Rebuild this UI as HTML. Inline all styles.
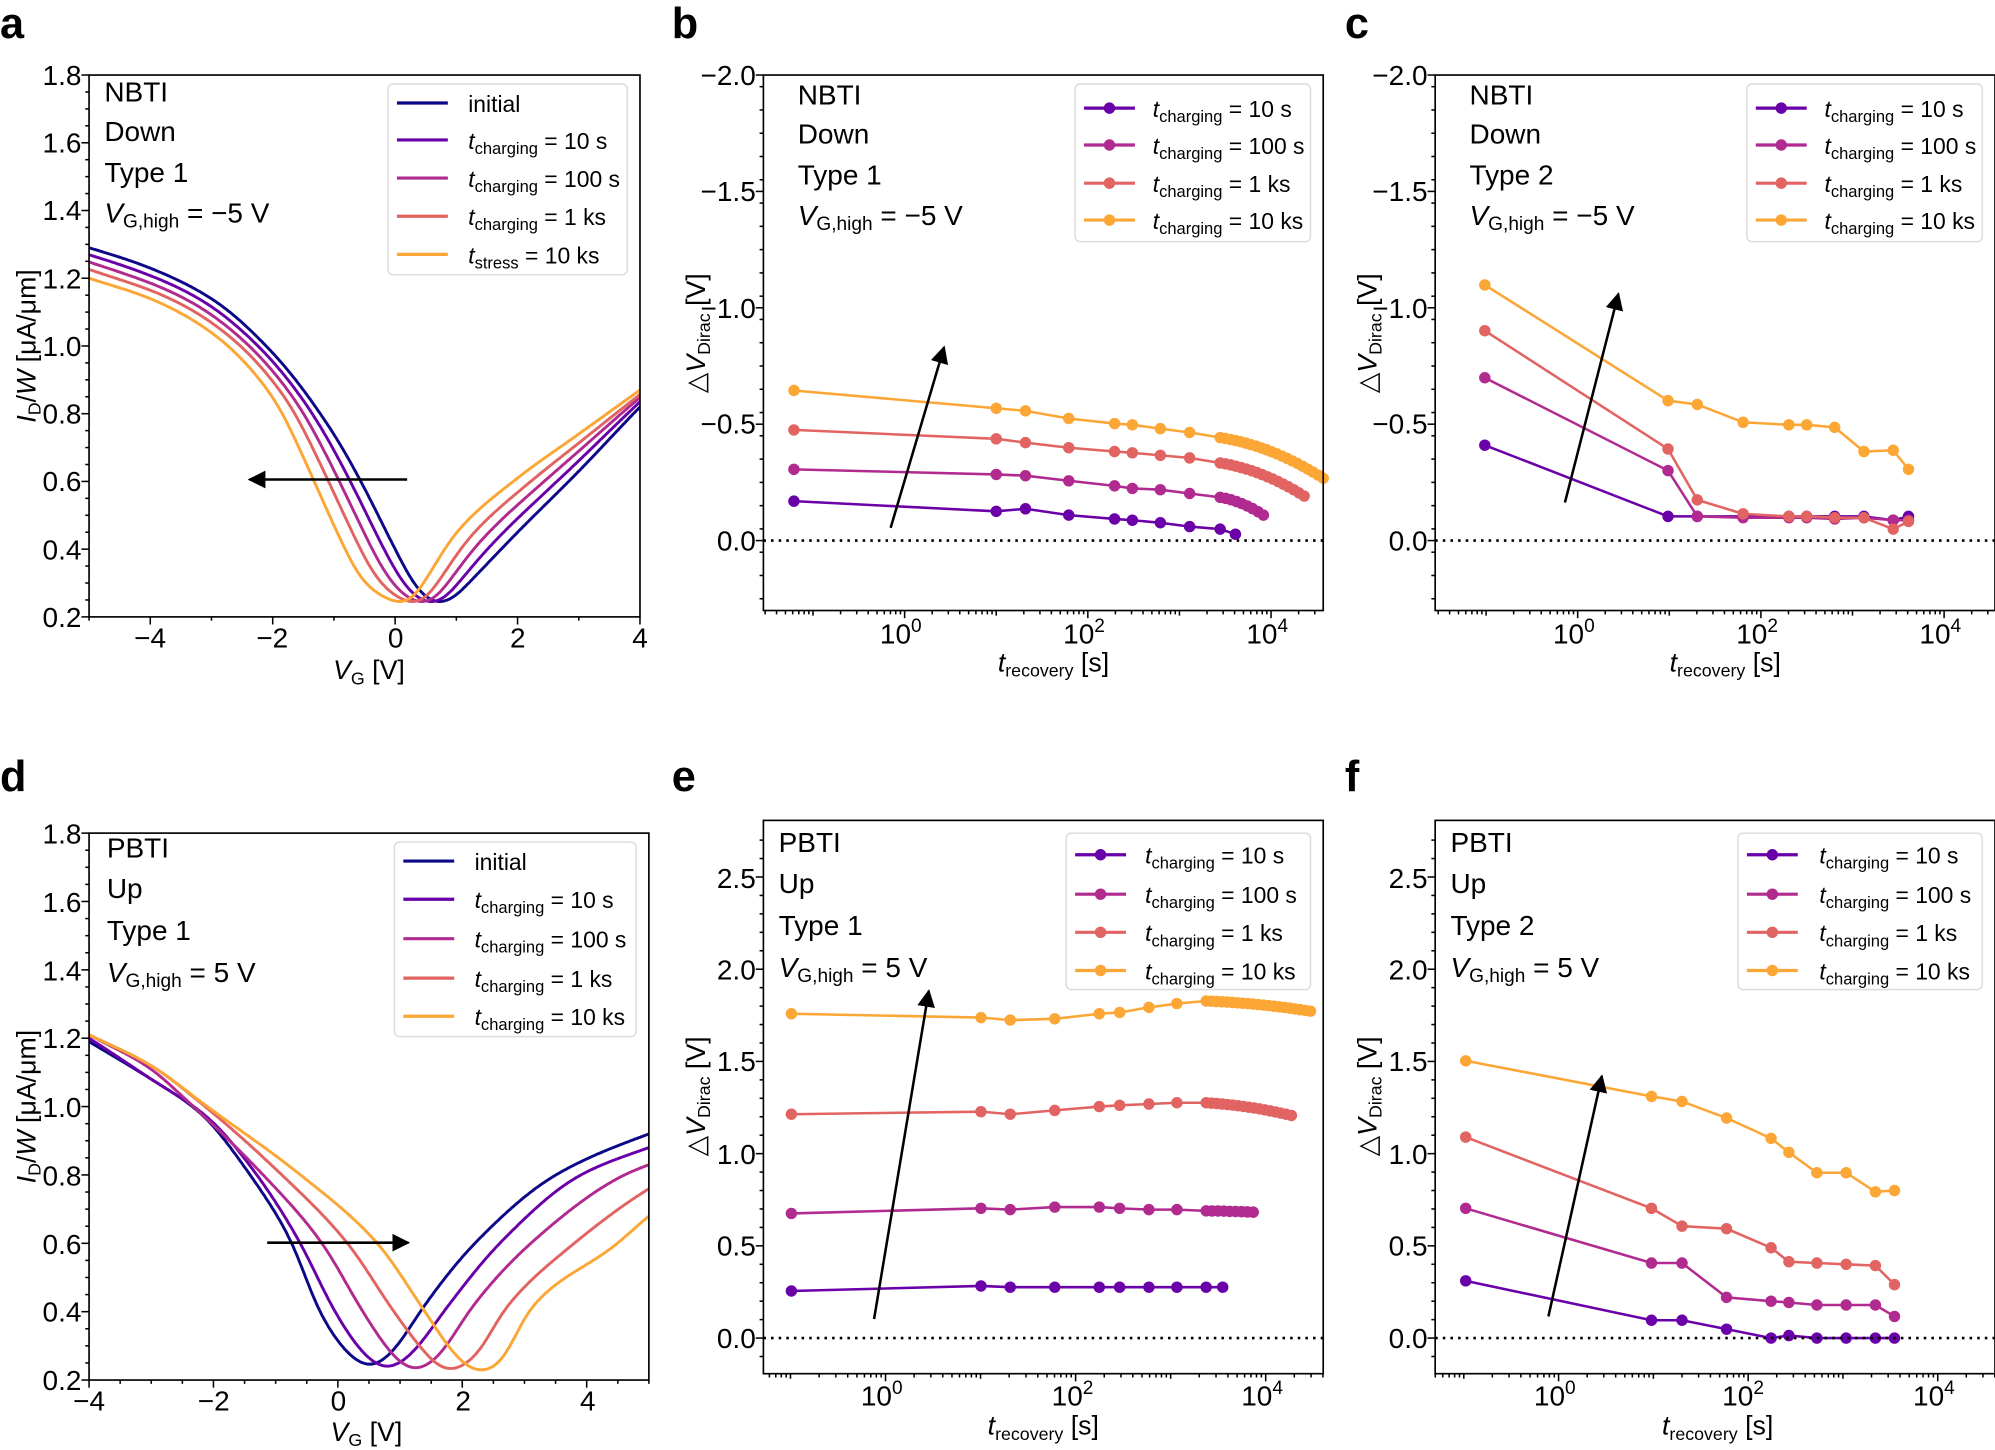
<!DOCTYPE html>
<html><head><meta charset="utf-8"><style>
html,body{margin:0;padding:0;background:#fff}
svg{display:block}
text{font-family:"Liberation Sans","DejaVu Sans",sans-serif;fill:#000}
.t{font-size:21px}
.tk{font-size:22px}
.lg{font-size:18px}
.lt{font-size:22px}
.L{font-size:34px;font-weight:bold}
</style></head><body>
<svg id="s" width="1995" height="1450" viewBox="0 0 1568 1140" preserveAspectRatio="none" xmlns="http://www.w3.org/2000/svg">
<defs><marker id="ar" viewBox="0 0 10 10" refX="9" refY="5" markerWidth="7" markerHeight="7" orient="auto"><path d="M0,0L10,5L0,10z" fill="#000"/></marker></defs>
<g id="dyn"></g>
<text class="L" x="0" y="30">a</text><text class="L" x="528" y="30">b</text><text class="L" x="1057" y="30">c</text>
<text class="L" x="0" y="622">d</text><text class="L" x="528" y="622">e</text><text class="L" x="1057" y="622">f</text>

<g class="tk" text-anchor="end">
<text x="64" y="67">1.8</text><text x="64" y="120">1.6</text><text x="64" y="173">1.4</text><text x="64" y="227">1.2</text><text x="64" y="280">1.0</text><text x="64" y="333">0.8</text><text x="64" y="386">0.6</text><text x="64" y="440">0.4</text><text x="64" y="493">0.2</text>
<text x="64" y="663">1.8</text><text x="64" y="717">1.6</text><text x="64" y="771">1.4</text><text x="64" y="824">1.2</text><text x="64" y="878">1.0</text><text x="64" y="932">0.8</text><text x="64" y="986">0.6</text><text x="64" y="1039">0.4</text><text x="64" y="1093">0.2</text>
</g>
<g class="tk" text-anchor="middle">
<text x="118" y="509">−4</text><text x="214" y="509">−2</text><text x="311" y="509">0</text><text x="407" y="509">2</text><text x="503" y="509">4</text>
<text x="70" y="1109">−4</text><text x="168" y="1109">−2</text><text x="266" y="1109">0</text><text x="364" y="1109">2</text><text x="462" y="1109">4</text>
</g>
<text class="t" text-anchor="middle" x="290" y="534"><tspan font-style="italic">V</tspan><tspan font-size="14" dy="4">G</tspan><tspan dy="-4"> [V]</tspan></text>
<text class="t" text-anchor="middle" x="288" y="1133"><tspan font-style="italic">V</tspan><tspan font-size="14" dy="4">G</tspan><tspan dy="-4"> [V]</tspan></text>
<text class="t" text-anchor="middle" transform="translate(28,272) rotate(-90)"><tspan font-style="italic">I</tspan><tspan font-size="14" dy="4">D</tspan><tspan dy="-4">/</tspan><tspan font-style="italic">W</tspan> [μA/μm]</text>
<text class="t" text-anchor="middle" transform="translate(28,870) rotate(-90)"><tspan font-style="italic">I</tspan><tspan font-size="14" dy="4">D</tspan><tspan dy="-4">/</tspan><tspan font-style="italic">W</tspan> [μA/μm]</text>

<g class="tk" text-anchor="end">
<text x="594" y="67">−2.0</text><text x="594" y="158">−1.5</text><text x="594" y="250">−1.0</text><text x="594" y="341">−0.5</text><text x="594" y="433">0.0</text>
<text x="1122" y="67">−2.0</text><text x="1122" y="158">−1.5</text><text x="1122" y="250">−1.0</text><text x="1122" y="341">−0.5</text><text x="1122" y="433">0.0</text>
<text x="594" y="698">2.5</text><text x="594" y="770">2.0</text><text x="594" y="842">1.5</text><text x="594" y="915">1.0</text><text x="594" y="987">0.5</text><text x="594" y="1060">0.0</text>
<text x="1122" y="698">2.5</text><text x="1122" y="770">2.0</text><text x="1122" y="842">1.5</text><text x="1122" y="915">1.0</text><text x="1122" y="987">0.5</text><text x="1122" y="1060">0.0</text>
</g>
<g class="tk" text-anchor="middle">
<text x="708" y="506">10<tspan font-size="15" dy="-9">0</tspan></text><text x="852" y="506">10<tspan font-size="15" dy="-9">2</tspan></text><text x="996" y="506">10<tspan font-size="15" dy="-9">4</tspan></text>
<text x="1237" y="506">10<tspan font-size="15" dy="-9">0</tspan></text><text x="1381" y="506">10<tspan font-size="15" dy="-9">2</tspan></text><text x="1525" y="506">10<tspan font-size="15" dy="-9">4</tspan></text>
<text x="693" y="1105">10<tspan font-size="15" dy="-9">0</tspan></text><text x="843" y="1105">10<tspan font-size="15" dy="-9">2</tspan></text><text x="992" y="1105">10<tspan font-size="15" dy="-9">4</tspan></text>
<text x="1222" y="1105">10<tspan font-size="15" dy="-9">0</tspan></text><text x="1370" y="1105">10<tspan font-size="15" dy="-9">2</tspan></text><text x="1520" y="1105">10<tspan font-size="15" dy="-9">4</tspan></text>
</g>
<g class="t" text-anchor="middle">
<text x="828" y="528"><tspan font-style="italic">t</tspan><tspan font-size="14" dy="4">recovery</tspan><tspan dy="-4"> [s]</tspan></text>
<text x="1356" y="528"><tspan font-style="italic">t</tspan><tspan font-size="14" dy="4">recovery</tspan><tspan dy="-4"> [s]</tspan></text>
<text x="820" y="1128"><tspan font-style="italic">t</tspan><tspan font-size="14" dy="4">recovery</tspan><tspan dy="-4"> [s]</tspan></text>
<text x="1350" y="1128"><tspan font-style="italic">t</tspan><tspan font-size="14" dy="4">recovery</tspan><tspan dy="-4"> [s]</tspan></text>
</g>
<g class="t" text-anchor="middle">
<text transform="translate(554,262) rotate(-90)">△<tspan font-style="italic">V</tspan><tspan font-size="14" dy="4">Dirac</tspan><tspan dy="-4"> [V]</tspan></text>
<text transform="translate(1082,262) rotate(-90)">△<tspan font-style="italic">V</tspan><tspan font-size="14" dy="4">Dirac</tspan><tspan dy="-4"> [V]</tspan></text>
<text transform="translate(554,862) rotate(-90)">△<tspan font-style="italic">V</tspan><tspan font-size="14" dy="4">Dirac</tspan><tspan dy="-4"> [V]</tspan></text>
<text transform="translate(1082,862) rotate(-90)">△<tspan font-style="italic">V</tspan><tspan font-size="14" dy="4">Dirac</tspan><tspan dy="-4"> [V]</tspan></text>
</g>

<g class="lt">
<text x="82" y="80">NBTI</text><text x="82" y="111">Down</text><text x="82" y="143">Type 1</text>
<text x="82" y="175"><tspan font-style="italic">V</tspan><tspan font-size="15" dy="4">G,high</tspan><tspan dy="-4"> = −5 V</tspan></text>
<text x="627" y="82">NBTI</text><text x="627" y="113">Down</text><text x="627" y="145">Type 1</text>
<text x="627" y="177"><tspan font-style="italic">V</tspan><tspan font-size="15" dy="4">G,high</tspan><tspan dy="-4"> = −5 V</tspan></text>
<text x="1155" y="82">NBTI</text><text x="1155" y="113">Down</text><text x="1155" y="145">Type 2</text>
<text x="1155" y="177"><tspan font-style="italic">V</tspan><tspan font-size="15" dy="4">G,high</tspan><tspan dy="-4"> = −5 V</tspan></text>
<text x="84" y="674">PBTI</text><text x="84" y="706">Up</text><text x="84" y="739">Type 1</text>
<text x="84" y="772"><tspan font-style="italic">V</tspan><tspan font-size="15" dy="4">G,high</tspan><tspan dy="-4"> = 5 V</tspan></text>
<text x="612" y="670">PBTI</text><text x="612" y="702">Up</text><text x="612" y="735">Type 1</text>
<text x="612" y="768"><tspan font-style="italic">V</tspan><tspan font-size="15" dy="4">G,high</tspan><tspan dy="-4"> = 5 V</tspan></text>
<text x="1140" y="670">PBTI</text><text x="1140" y="702">Up</text><text x="1140" y="735">Type 2</text>
<text x="1140" y="768"><tspan font-style="italic">V</tspan><tspan font-size="15" dy="4">G,high</tspan><tspan dy="-4"> = 5 V</tspan></text>
</g>

<g id="legs"></g>
<g class="lg">
<text x="368" y="88">initial</text>
<text x="368" y="117"><tspan font-style="italic">t</tspan><tspan font-size="13" dy="4">charging</tspan><tspan dy="-4"> = 10 s</tspan></text>
<text x="368" y="147"><tspan font-style="italic">t</tspan><tspan font-size="13" dy="4">charging</tspan><tspan dy="-4"> = 100 s</tspan></text>
<text x="368" y="177"><tspan font-style="italic">t</tspan><tspan font-size="13" dy="4">charging</tspan><tspan dy="-4"> = 1 ks</tspan></text>
<text x="368" y="207"><tspan font-style="italic">t</tspan><tspan font-size="13" dy="4">stress</tspan><tspan dy="-4"> = 10 ks</tspan></text>

<text x="373" y="684">initial</text>
<text x="373" y="714"><tspan font-style="italic">t</tspan><tspan font-size="13" dy="4">charging</tspan><tspan dy="-4"> = 10 s</tspan></text>
<text x="373" y="745"><tspan font-style="italic">t</tspan><tspan font-size="13" dy="4">charging</tspan><tspan dy="-4"> = 100 s</tspan></text>
<text x="373" y="776"><tspan font-style="italic">t</tspan><tspan font-size="13" dy="4">charging</tspan><tspan dy="-4"> = 1 ks</tspan></text>
<text x="373" y="806"><tspan font-style="italic">t</tspan><tspan font-size="13" dy="4">charging</tspan><tspan dy="-4"> = 10 ks</tspan></text>

<text x="906" y="92"><tspan font-style="italic">t</tspan><tspan font-size="13" dy="4">charging</tspan><tspan dy="-4"> = 10 s</tspan></text>
<text x="906" y="121"><tspan font-style="italic">t</tspan><tspan font-size="13" dy="4">charging</tspan><tspan dy="-4"> = 100 s</tspan></text>
<text x="906" y="151"><tspan font-style="italic">t</tspan><tspan font-size="13" dy="4">charging</tspan><tspan dy="-4"> = 1 ks</tspan></text>
<text x="906" y="180"><tspan font-style="italic">t</tspan><tspan font-size="13" dy="4">charging</tspan><tspan dy="-4"> = 10 ks</tspan></text>

<text x="1434" y="92"><tspan font-style="italic">t</tspan><tspan font-size="13" dy="4">charging</tspan><tspan dy="-4"> = 10 s</tspan></text>
<text x="1434" y="121"><tspan font-style="italic">t</tspan><tspan font-size="13" dy="4">charging</tspan><tspan dy="-4"> = 100 s</tspan></text>
<text x="1434" y="151"><tspan font-style="italic">t</tspan><tspan font-size="13" dy="4">charging</tspan><tspan dy="-4"> = 1 ks</tspan></text>
<text x="1434" y="180"><tspan font-style="italic">t</tspan><tspan font-size="13" dy="4">charging</tspan><tspan dy="-4"> = 10 ks</tspan></text>

<text x="900" y="679"><tspan font-style="italic">t</tspan><tspan font-size="13" dy="4">charging</tspan><tspan dy="-4"> = 10 s</tspan></text>
<text x="900" y="710"><tspan font-style="italic">t</tspan><tspan font-size="13" dy="4">charging</tspan><tspan dy="-4"> = 100 s</tspan></text>
<text x="900" y="740"><tspan font-style="italic">t</tspan><tspan font-size="13" dy="4">charging</tspan><tspan dy="-4"> = 1 ks</tspan></text>
<text x="900" y="770"><tspan font-style="italic">t</tspan><tspan font-size="13" dy="4">charging</tspan><tspan dy="-4"> = 10 ks</tspan></text>

<text x="1430" y="679"><tspan font-style="italic">t</tspan><tspan font-size="13" dy="4">charging</tspan><tspan dy="-4"> = 10 s</tspan></text>
<text x="1430" y="710"><tspan font-style="italic">t</tspan><tspan font-size="13" dy="4">charging</tspan><tspan dy="-4"> = 100 s</tspan></text>
<text x="1430" y="740"><tspan font-style="italic">t</tspan><tspan font-size="13" dy="4">charging</tspan><tspan dy="-4"> = 1 ks</tspan></text>
<text x="1430" y="770"><tspan font-style="italic">t</tspan><tspan font-size="13" dy="4">charging</tspan><tspan dy="-4"> = 10 ks</tspan></text>
</g>
</svg>
<script>
(function(){
var NS="http://www.w3.org/2000/svg";
var dyn=document.getElementById("dyn"), legs=document.getElementById("legs");
function el(p,tag,a){var e=document.createElementNS(NS,tag);for(var k in a)e.setAttribute(k,a[k]);p.appendChild(e);return e;}
var C5=["#0d0887","#6a00a8","#b12a90","#e16462","#fca636"];
var C4=["#6a00a8","#b12a90","#e16462","#fca636"];
var boxes=[[70,59,503,485],[600,59,1040,480],[1128,59,1568,480],[70,655,510,1085],[600,645,1040,1080],[1128,645,1568,1080]];
function legend(x0,y0,x1,y1,ys,lx,cols,mk){
  el(legs,"rect",{x:x0,y:y0,width:x1-x0,height:y1-y0,rx:4,fill:"#fff",stroke:"#ddd","stroke-width":1.2});
  ys.forEach(function(y,i){el(legs,"line",{x1:lx,y1:y,x2:lx+40,y2:y,stroke:cols[i],"stroke-width":2.5});
    if(mk)el(legs,"circle",{cx:lx+20,cy:y,r:4.5,fill:cols[i]});});
}
function mono(pts){
  var n=pts.length,xs=pts.map(function(p){return p[0]}),ys=pts.map(function(p){return p[1]});
  var d=[],m=[];for(var i=0;i<n-1;i++)d.push((ys[i+1]-ys[i])/(xs[i+1]-xs[i]));
  m[0]=d[0];m[n-1]=d[n-2];
  for(var i=1;i<n-1;i++){if(d[i-1]*d[i]<=0)m[i]=0;else{var w1=2*(xs[i+1]-xs[i])+(xs[i]-xs[i-1]),w2=(xs[i+1]-xs[i])+2*(xs[i]-xs[i-1]);m[i]=(w1+w2)/(w1/d[i-1]+w2/d[i]);}}
  return function(x){
    if(x<=xs[0])return ys[0]+m[0]*(x-xs[0]);
    if(x>=xs[n-1])return ys[n-1]+m[n-1]*(x-xs[n-1]);
    var i=0;while(x>xs[i+1])i++;
    var h=xs[i+1]-xs[i],t=(x-xs[i])/h,t2=t*t,t3=t2*t;
    return (2*t3-3*t2+1)*ys[i]+(t3-2*t2+t)*h*m[i]+(-2*t3+3*t2)*ys[i+1]+(t3-t2)*h*m[i+1];};
}
// Gaussian-smoothed draw
function drawCurve(f,X,Y,x0,x1,col,g,sig){
  sig=sig||0.12;var h=0.01,ext=4*sig,vs=[],ys=[];
  for(var v=x0-ext;v<=x1+ext+1e-9;v+=h){vs.push(v);ys.push(f(v));}
  var K=Math.round(ext/h),w=[],ws=0;for(var j=-K;j<=K;j++){var q=Math.exp(-0.5*Math.pow(j*h/sig,2));w.push(q);ws+=q;}
  var d="";
  for(var i=K;i<vs.length-K;i+=2){var s=0;for(var j=-K;j<=K;j++)s+=w[j+K]*ys[i+j];s/=ws;
    d+=(d?"L":"M")+X(vs[i]).toFixed(1)+","+Y(s).toFixed(1);}
  el(g,"path",{d:d,fill:"none",stroke:col,"stroke-width":2.3,"stroke-linejoin":"round"});}
// a
(function(){
  var X=function(v){return 70+(v+5)/9*433},Y=function(v){return 485-(v-0.2)/1.6*426};
  var cp=el(dyn,"clipPath",{id:"ca"});el(cp,"rect",{x:70,y:59,width:433,height:426});
  var g=el(dyn,"g",{"clip-path":"url(#ca)"});
  var Ii=mono([[-6,1.34],[-5,1.29],[-4,1.23],[-3,1.14],[-2,0.98],[-1,0.74],[-0.5,0.58],[0,0.4],[0.35,0.285],[0.55,0.25],[0.74,0.24],[0.95,0.255],[1.2,0.3],[2,0.45],[3,0.63],[4,0.82],[5,1.0]]);
  var Io=mono([[-6,1.26],[-5,1.2],[-4,1.14],[-3,1.04],[-2,0.85],[-1.37,0.62],[-1,0.47],[-0.5,0.3],[-0.15,0.255],[0.09,0.24],[0.3,0.255],[0.5,0.31],[1,0.45],[2,0.61],[3,0.74],[4,0.87],[5,1.0]]);
  var mins=[0.74,0.6,0.45,0.3,0.09];
  for(var k=0;k<5;k++){(function(k){var t=k/4,mk=mins[k];
    var f=function(v){return (1-t)*Ii(v-(mk-0.74))+t*Io(v-(mk-0.09));};
    drawCurve(f,X,Y,-5,4,C5[k],g,0.13);})(k);}
  el(dyn,"line",{x1:320,y1:377,x2:196,y2:377,stroke:"#000","stroke-width":2,"marker-end":"url(#ar)"});
})();
// d
(function(){
  var X=function(v){return 70+(v+4)/9*440},Y=function(v){return 1085-(v-0.2)/1.6*430};
  var cp=el(dyn,"clipPath",{id:"cd"});el(cp,"rect",{x:70,y:655,width:440,height:430});
  var g=el(dyn,"g",{"clip-path":"url(#cd)"});
  var T=[
   [[-5,1.3],[-4,1.19],[-3,1.08],[-2.2,0.98],[-1.41,0.8],[-0.73,0.6],[-0.3,0.4],[0.15,0.28],[0.35,0.25],[0.53,0.24],[0.75,0.26],[1.0,0.31],[1.32,0.4],[2.2,0.6],[3.5,0.8],[5,0.92],[6,0.98]],
   [[-5,1.31],[-4,1.2],[-3,1.08],[-2.1,0.97],[-1.3,0.8],[-0.6,0.6],[-0.05,0.4],[0.4,0.28],[0.62,0.245],[0.8,0.235],[1.05,0.255],[1.3,0.3],[1.7,0.4],[2.6,0.6],[3.9,0.8],[5,0.88],[6,0.94]],
   [[-5,1.31],[-4,1.21],[-3,1.11],[-2.5,1.03],[-1.2,0.8],[-0.25,0.6],[0.4,0.4],[0.85,0.28],[1.08,0.24],[1.25,0.23],[1.5,0.25],[1.75,0.3],[2.1,0.4],[3.1,0.6],[4.6,0.8],[5,0.83],[6,0.9]],
   [[-5,1.3],[-4,1.21],[-3,1.12],[-2.2,1.01],[-0.9,0.8],[0.16,0.6],[0.9,0.4],[1.4,0.28],[1.62,0.24],[1.8,0.228],[2.05,0.245],[2.3,0.29],[2.65,0.4],[3.8,0.6],[5,0.76],[6,0.86]],
   [[-5,1.3],[-4,1.21],[-3,1.12],[-2.1,1.0],[-0.6,0.8],[0.64,0.6],[1.4,0.4],[1.9,0.27],[2.12,0.235],[2.3,0.225],[2.55,0.24],[2.78,0.3],[3.05,0.4],[4.5,0.6],[5,0.68],[6,0.8]]];
  for(var k=0;k<5;k++)drawCurve(mono(T[k]),X,Y,-4,5,C5[k],g,0.13);
  el(dyn,"line",{x1:210,y1:977,x2:321,y2:977,stroke:"#000","stroke-width":2,"marker-end":"url(#ar)"});
})();
function series(pts,col){var d="";pts.forEach(function(p,i){d+=(i?"L":"M")+p[0]+","+p[1];});
  el(dyn,"path",{d:d,fill:"none",stroke:col,"stroke-width":2});
  pts.forEach(function(p){el(dyn,"circle",{cx:p[0],cy:p[1],r:4.5,fill:col});});}
function dense(pts,x0,y0,x1,y1,n){for(var i=1;i<=n;i++){var t=i/n;pts.push([+(x0+(x1-x0)*t).toFixed(1),+(y0+(y1-y0)*t*t*0.6+(y1-y0)*t*0.4).toFixed(1)]);}return pts;}
var XB=[624,783,806,840,876,890,912,935,959];
function mk(xs,ys){return xs.map(function(x,i){return [x,ys[i]];});}
series(mk(XB.concat([971]),[394,402,400,405,408,409,411,414,416,420]),C4[0]);
series(dense(mk(XB,[369,373,374,378,382,384,385,388,391]),959,391,993,405,8),C4[1]);
series(dense(mk(XB,[338,345,348,352,355,356,358,360,364]),959,364,1025,390,16),C4[2]);
series(dense(mk(XB,[307,321,323,329,333,334,337,340,344]),959,344,1040,376,20),C4[3]);
var XC=[1167,1311,1334,1370,1406,1420,1442,1465,1488,1500];
series(mk(XC,[350,406,406,406,406,406,406,406,409,406]),C4[0]);
series(mk(XC,[297,370,406,407,407,407,408,407,409,409]),C4[1]);
series(mk(XC,[260,353,393,404,406,406,407,407,416,410]),C4[2]);
series(mk(XC,[224,315,318,332,334,334,336,355,354,369]),C4[3]);
var XE=[622,771,794,829,864,880,903,925,948];
series(mk(XE.concat([961]),[1015,1011,1012,1012,1012,1012,1012,1012,1012,1012]),C4[0]);
series(dense(mk(XE,[954,950,951,949,949,950,951,951,952]),948,952,985,953,8),C4[1]);
series(dense(mk(XE,[876,874,876,873,870,869,868,867,867]),948,867,1015,877,16),C4[2]);
series(dense(mk(XE,[797,800,802,801,797,796,792,789,787]),948,787,1030,795,20),C4[3]);
var XF=[1152,1298,1322,1357,1392,1406,1428,1451,1474,1489];
series(mk(XF,[1007,1038,1038,1045,1052,1050,1052,1052,1052,1052]),C4[0]);
series(mk(XF,[950,993,993,1020,1023,1024,1026,1026,1026,1035]),C4[1]);
series(mk(XF,[894,950,964,966,981,992,993,994,995,1010]),C4[2]);
series(mk(XF,[834,862,866,879,895,906,922,922,937,936]),C4[3]);
[[600,1040,425],[1128,1568,425],[600,1040,1052],[1128,1568,1052]].forEach(function(z){
  el(dyn,"line",{x1:z[0],y1:z[2],x2:z[1],y2:z[2],stroke:"#000","stroke-width":2,"stroke-dasharray":"2,4"});});
[[700,415,742,273],[1230,395,1272,231],[687,1037,730,779],[1217,1035,1259,846]].forEach(function(a){
  el(dyn,"line",{x1:a[0],y1:a[1],x2:a[2],y2:a[3],stroke:"#000","stroke-width":2,"marker-end":"url(#ar)"});});
boxes.forEach(function(b){el(dyn,"rect",{x:b[0],y:b[1],width:b[2]-b[0],height:b[3]-b[1],fill:"none",stroke:"#000","stroke-width":1.3});});
function tk(x1,y1,x2,y2){el(dyn,"line",{x1:x1,y1:y1,x2:x2,y2:y2,stroke:"#000","stroke-width":1.2});}
for(var i=0;i<=32;i++){var y=485-i*426/32;tk(70,y,70-(i%4==0?6:3),y);}
for(var i=0;i<=32;i++){var y=1085-i*430/32;tk(70,y,70-(i%4==0?6:3),y);}
for(var i=0;i<=9;i++){var x=70+i*433/9;tk(x,485,x,485+(i%2==1?6:3));}
for(var i=0;i<=18;i++){var x=70+i*440/18;tk(x,1085,x,1085+(i%4==0?6:3));}
[600,1128].forEach(function(x0){for(var v=-2;v<=0.01;v+=0.5)tk(x0,425+v*183,x0-6,425+v*183);
  for(var v=-2.25;v<=0.3;v+=0.1){var y=425+v*183;if(y>=59&&y<=480)tk(x0,y,x0-3,y);}});
[600,1128].forEach(function(x0){for(var v=-0.1;v<=2.75;v+=0.1){var y=1052-v*145;var maj=Math.abs(v*2-Math.round(v*2))<0.01;tk(x0,y,x0-(maj?6:3),y);}});
function logt(x0,dec,lo,hi,yb){for(var e=-2;e<=5;e++){for(var m=1;m<10;m++){var x=x0+(e+Math.log10(m))*dec;if(x<lo||x>hi)continue;tk(x,yb,x,yb+(m==1?(e%2==0?6:4):3));}}}
logt(711,72,600,1040,480);logt(1240,72,1128,1568,480);logt(696,74.7,600,1040,1080);logt(1225,74.5,1128,1568,1080);
legend(305,66,493,216,[81,110,140,170,200],312,C5,false);
legend(310,662,500,815,[677,707,738,769,799],317,C5,false);
legend(845,66,1030,190,[85,114,144,173],852,C4,true);
legend(1373,66,1558,190,[85,114,144,173],1380,C4,true);
legend(838,655,1030,778,[672,703,733,763],845,C4,true);
legend(1366,655,1558,778,[672,703,733,763],1373,C4,true);
})();
</script>
</body></html>
